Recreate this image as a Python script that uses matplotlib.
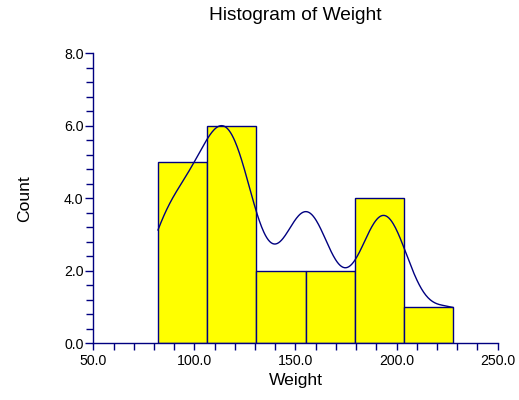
import numpy as np
import matplotlib
matplotlib.use("Agg")
import matplotlib.pyplot as plt
from matplotlib.ticker import MultipleLocator, FormatStrFormatter

# Data (20 observations of Weight)
weights = [159, 155, 157, 125, 103, 122, 101, 82, 228, 199,
           195, 110, 191, 151, 119, 119, 112, 87, 190, 87]
n_bins = 6
title = "Histogram of Weight"
xlabel = "Weight"
ylabel = "Count"
x_ticks = [50.0, 100.0, 150.0, 200.0, 250.0]
y_ticks = [0.0, 2.0, 4.0, 6.0, 8.0]
bandwidth = 11.8

NAVY = "#000080"
YELLOW = "#FFFF00"
plt.rcParams['font.family'] = ['Liberation Sans', 'DejaVu Sans']

w = np.array(weights, dtype=float)
lo, hi = w.min(), w.max()
edges = np.linspace(lo, hi, n_bins + 1)
binw = edges[1] - edges[0]
# values on an interior edge go to the lower bin
idx = np.clip(np.searchsorted(edges, w, side='left') - 1, 0, n_bins - 1)
counts = np.bincount(idx, minlength=n_bins)

fig = plt.figure(figsize=(5.19, 4.0), dpi=100)
ax = fig.add_axes([93.3 / 519, 1 - 343.3 / 400, 404.4 / 519, 290 / 400])

ax.bar(edges[:-1], counts, width=binw, align='edge', color=YELLOW,
       edgecolor=NAVY, linewidth=1.0, zorder=2)

# density trace
xs = np.linspace(lo, hi, 400)
dens = np.exp(-0.5 * ((xs[:, None] - w[None, :]) / bandwidth) ** 2).sum(axis=1)
area = np.trapezoid(dens, xs)
curve = dens / area * len(w) * binw * 1.01
ax.plot(xs, curve, color=NAVY, linewidth=1.0, zorder=3)

ax.set_xlim(x_ticks[0], x_ticks[-1])
ax.set_ylim(y_ticks[0], y_ticks[-1])
ax.set_xticks(x_ticks)
ax.set_yticks(y_ticks)
ax.xaxis.set_minor_locator(MultipleLocator(10))
ax.yaxis.set_minor_locator(MultipleLocator(0.4))
ax.xaxis.set_major_formatter(FormatStrFormatter('%.1f'))
ax.yaxis.set_major_formatter(FormatStrFormatter('%.1f'))

for s in ['top', 'right']:
    ax.spines[s].set_visible(False)
for s in ['left', 'bottom']:
    ax.spines[s].set_color(NAVY)
    ax.spines[s].set_linewidth(1.0)

ax.tick_params(axis='both', which='both', direction='out', color=NAVY, width=1.0)
ax.tick_params(axis='y', which='major', length=6, pad=1, labelsize=10.2)
ax.tick_params(axis='y', which='minor', length=5)
ax.tick_params(axis='x', which='major', length=5, pad=3, labelsize=10.2)
ax.tick_params(axis='x', which='minor', length=5)

ax.set_xlabel(xlabel, fontsize=12.6, labelpad=3)
ax.set_ylabel(ylabel, fontsize=12.6, labelpad=23)
fig.text((93.3 + 497.7) / 2 / 519, 1 - 16 / 400, title, fontsize=13.8,
         ha='center', va='center')

fig.savefig("out.png", dpi=100)
